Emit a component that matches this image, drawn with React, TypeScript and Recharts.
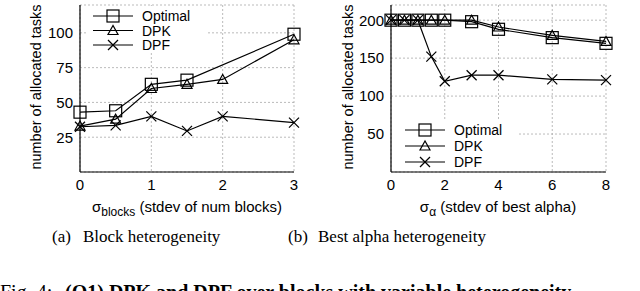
import React from 'react';
import {
  LineChart,
  Line,
  XAxis,
  YAxis,
  CartesianGrid,
  Legend,
} from 'recharts';

// (a) block heterogeneity
const blocksX = [0, 0.5, 1, 1.5, 2, 3];
const blocksOptimal = [43, 44, 63, 66, null, 99];
const blocksDPK = [33, 38, 60, 63, 66.5, 95];
const blocksDPF = [32.5, 33.5, 40, 29.5, 40, 35.5];
const blocksXTicks = [0, 1, 2, 3];
const blocksYTicks = [25, 50, 75, 100];

// (b) best alpha heterogeneity
const alphaX = [0, 0.5, 1, 1.5, 2, 3, 4, 6, 8];
const alphaOptimal = [200, 200, 200, 200, 200, 198, 188, 177, 169.5];
const alphaDPK = [200, 200, 200, 200, 200, 200, 191, 180, 172];
const alphaDPF = [200, 200, 200, 152, 119.5, 127.5, 127.5, 122, 121];
const alphaXTicks = [0, 2, 4, 6, 8];
const alphaYTicks = [50, 100, 150, 200];

const seriesNames = ['Optimal', 'DPK', 'DPF'];
const markerKinds = ['square', 'triangle', 'cross'];

const sans = 'Liberation Sans, Arial, sans-serif';
const serif = 'Liberation Serif, Times New Roman, serif';

const blocksData = blocksX.map((x, i) => ({
  x,
  optimal: blocksOptimal[i],
  dpk: blocksDPK[i],
  dpf: blocksDPF[i],
}));

const alphaData = alphaX.map((x, i) => ({
  x,
  optimal: alphaOptimal[i],
  dpk: alphaDPK[i],
  dpf: alphaDPF[i],
}));

const Marker = ({ kind, cx, cy }: { kind: string; cx: number; cy: number }) => {
  if (kind === 'square') {
    return <rect x={cx - 6} y={cy - 6} width={12} height={12} fill="none" stroke="#000" strokeWidth={1.2} />;
  }
  if (kind === 'triangle') {
    return (
      <polygon
        points={`${cx},${cy - 5} ${cx - 5},${cy + 4} ${cx + 5},${cy + 4}`}
        fill="none"
        stroke="#000"
        strokeWidth={1.2}
      />
    );
  }
  return (
    <g stroke="#000" strokeWidth={1.2}>
      <line x1={cx - 5} y1={cy - 5} x2={cx + 5} y2={cy + 5} />
      <line x1={cx - 5} y1={cy + 5} x2={cx + 5} y2={cy - 5} />
    </g>
  );
};

const makeDot = (kind: string, key: string) => (props: any) => {
  const { cx, cy, index, payload } = props;
  if (cx == null || cy == null || payload?.[key] == null) {
    return <g key={`${key}-empty-${index}`} />;
  }
  return (
    <g key={`${key}-${index}`}>
      <Marker kind={kind} cx={cx} cy={cy} />
    </g>
  );
};

const LegendBox = ({ width, height, rows, lineX }: { width: number; height: number; rows: number[]; lineX: number }) => (
  <svg width={width} height={height} style={{ display: 'block' }}>
    <rect x={0} y={0} width={width} height={height} fill="#fff" />
    {seriesNames.map((name, i) => (
      <g key={name}>
        <line x1={lineX} y1={rows[i]} x2={lineX + 40} y2={rows[i]} stroke="#000" strokeWidth={1.2} />
        <Marker kind={markerKinds[i]} cx={lineX + 20} cy={rows[i]} />
        <text x={lineX + 49} y={rows[i] + 5} fontSize={14} fontFamily={sans} fill="#000">
          {name}
        </text>
      </g>
    ))}
  </svg>
);

const tickStyle = { fill: '#000', fontSize: 15, fontFamily: sans };

const Panel = ({
  data,
  xDomain,
  xTicks,
  yDomain,
  yTicks,
  yAxisWidth,
  rightMargin,
  legend,
}: any) => (
  <LineChart
    width={320}
    height={220}
    data={data}
    margin={{ top: 5, right: rightMargin, left: 0, bottom: 18 }}
  >
    <CartesianGrid stroke="#aaa" strokeDasharray="2 2" strokeWidth={0.8} />
    <XAxis
      dataKey="x"
      type="number"
      domain={xDomain}
      ticks={xTicks}
      height={30}
      tickLine={false}
      tickSize={0}
      tickMargin={7}
      axisLine={{ stroke: '#000', strokeWidth: 1.2 }}
      tick={tickStyle}
    />
    <XAxis
      xAxisId="top"
      dataKey="x"
      type="number"
      orientation="top"
      domain={xDomain}
      height={0}
      tick={false}
      tickLine={false}
      axisLine={{ stroke: '#000', strokeWidth: 1.2 }}
    />
    <YAxis
      type="number"
      domain={yDomain}
      ticks={yTicks}
      width={yAxisWidth}
      tickLine={false}
      tickSize={0}
      tickMargin={7}
      axisLine={{ stroke: '#000', strokeWidth: 1.2 }}
      tick={tickStyle}
    />
    <YAxis
      yAxisId="right"
      orientation="right"
      type="number"
      domain={yDomain}
      width={0}
      tick={false}
      tickLine={false}
      axisLine={{ stroke: '#000', strokeWidth: 1.2 }}
    />
    <Legend
      layout="horizontal"
      verticalAlign="middle"
      align="center"
      wrapperStyle={{ left: legend.left, top: legend.top, width: legend.width, height: legend.height }}
      content={() => (
        <LegendBox width={legend.width} height={legend.height} rows={legend.rows} lineX={legend.lineX} />
      )}
    />
    <Line
      dataKey="optimal"
      stroke="#000"
      strokeWidth={1.2}
      connectNulls
      dot={makeDot('square', 'optimal')}
      isAnimationActive={false}
    />
    <Line
      dataKey="dpk"
      stroke="#000"
      strokeWidth={1.2}
      dot={makeDot('triangle', 'dpk')}
      isAnimationActive={false}
    />
    <Line
      dataKey="dpf"
      stroke="#000"
      strokeWidth={1.2}
      dot={makeDot('cross', 'dpf')}
      isAnimationActive={false}
    />
  </LineChart>
);

export default function App() {
  return (
    <div style={{ position: 'absolute', left: 0, top: 0, width: 640, height: 291, background: '#fff', overflow: 'hidden' }}>
      <div style={{ position: 'absolute', left: 0, top: 0 }}>
        <Panel
          data={blocksData}
          xDomain={[0, 3]}
          xTicks={blocksXTicks}
          yDomain={[0, 120]}
          yTicks={blocksYTicks}
          yAxisWidth={80}
          rightMargin={26}
          legend={{ left: 88, top: 6, width: 119, height: 46, rows: [10, 24.5, 39], lineX: 5 }}
        />
      </div>
      <div style={{ position: 'absolute', left: 320, top: 0 }}>
        <Panel
          data={alphaData}
          xDomain={[0, 8]}
          xTicks={alphaXTicks}
          yDomain={[0, 220]}
          yTicks={alphaYTicks}
          yAxisWidth={71}
          rightMargin={34}
          legend={{ left: 72, top: 120, width: 125, height: 51, rows: [10, 26, 42], lineX: 13 }}
        />
      </div>
      <svg
        width={640}
        height={291}
        style={{ position: 'absolute', left: 0, top: 0, pointerEvents: 'none' }}
      >
        <text
          transform="translate(41,87) rotate(-90)"
          textAnchor="middle"
          fontSize={14.5}
          fontFamily={sans}
          fill="#000"
        >
          number of allocated tasks
        </text>
        <text
          transform="translate(353,87) rotate(-90)"
          textAnchor="middle"
          fontSize={14.5}
          fontFamily={sans}
          fill="#000"
        >
          number of allocated tasks
        </text>
        <text x={187} y={212} textAnchor="middle" fontSize={15} fontFamily={sans} fill="#000">
          σ
          <tspan fontSize={12} dy={4}>blocks</tspan>
          <tspan dy={-4}> (stdev of num blocks)</tspan>
        </text>
        <text x={498} y={212} textAnchor="middle" fontSize={15} fontFamily={sans} fill="#000">
          σ
          <tspan fontSize={12} dy={4}>α</tspan>
          <tspan dy={-4}> (stdev of best alpha)</tspan>
        </text>
        <text x={52} y={242} fontSize={17} fontFamily={serif} fill="#000">(a)</text>
        <text x={83} y={242} fontSize={17} fontFamily={serif} fill="#000">Block heterogeneity</text>
        <text x={288} y={242} fontSize={17} fontFamily={serif} fill="#000">(b)</text>
        <text x={318} y={242} fontSize={17} fontFamily={serif} fill="#000">Best alpha heterogeneity</text>
        <text x={0} y={299} fontSize={20} fontFamily={serif} fill="#000">
          Fig. 4:
        </text>
        <text x={65} y={299} fontSize={20} fontFamily={serif} fontWeight="bold" fill="#000">
          (Q1) DPK and DPF over blocks with variable heterogeneity
        </text>
      </svg>
    </div>
  );
}
